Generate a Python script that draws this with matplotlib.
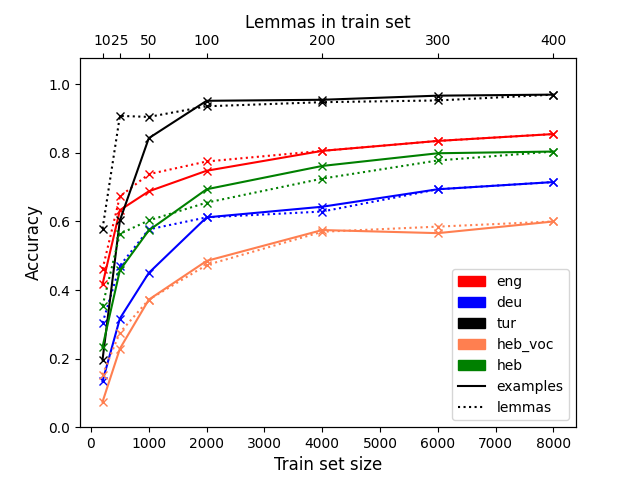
import matplotlib
matplotlib.use("Agg")
import matplotlib.pyplot as plt
import matplotlib.patches as mpatches
from matplotlib.lines import Line2D

train_sizes = [200, 500, 1000, 2000, 4000, 6000, 8000]
lemma_labels = ["10", "25", "50", "100", "200", "300", "400"]

languages = ["eng", "deu", "tur", "heb_voc", "heb"]
colors = ["red", "blue", "black", "coral", "green"]

# accuracy when splitting by examples (solid) and by lemmas (dotted)
eng_examples = [0.417, 0.633, 0.688, 0.748, 0.806, 0.835, 0.855]
eng_lemmas = [0.461, 0.673, 0.738, 0.775, 0.806, 0.835, 0.855]
deu_examples = [0.134, 0.317, 0.450, 0.612, 0.643, 0.694, 0.715]
deu_lemmas = [0.304, 0.471, 0.577, 0.612, 0.629, 0.694, 0.715]
tur_examples = [0.197, 0.603, 0.843, 0.952, 0.955, 0.967, 0.970]
tur_lemmas = [0.579, 0.908, 0.905, 0.936, 0.948, 0.953, 0.970]
heb_voc_examples = [0.074, 0.229, 0.372, 0.485, 0.575, 0.566, 0.600]
heb_voc_lemmas = [0.153, 0.276, 0.372, 0.473, 0.570, 0.585, 0.600]
heb_examples = [0.234, 0.458, 0.574, 0.694, 0.762, 0.799, 0.804]
heb_lemmas = [0.354, 0.564, 0.603, 0.655, 0.725, 0.778, 0.804]

examples = [eng_examples, deu_examples, tur_examples, heb_voc_examples, heb_examples]
lemmas = [eng_lemmas, deu_lemmas, tur_lemmas, heb_voc_lemmas, heb_lemmas]

fig, ax = plt.subplots(figsize=(6.4, 4.8), dpi=100)

for lang, color, ex, lem in zip(languages, colors, examples, lemmas):
    ax.plot(train_sizes, ex, color=color, marker="x", linestyle="-")
    ax.plot(train_sizes, lem, color=color, marker="x", linestyle=":")

ax.set_ylim(0, 1.078)
ax.set_xlabel("Train set size", fontsize=12)
ax.set_ylabel("Accuracy", fontsize=12)

top = ax.twiny()
top.set_xlim(ax.get_xlim())
top.set_xticks(train_sizes)
top.set_xticklabels(lemma_labels)
top.set_xlabel("Lemmas in train set", fontsize=12)

handles = [mpatches.Patch(color=c, label=l) for l, c in zip(languages, colors)]
handles.append(Line2D([], [], color="black", linestyle="-", label="examples"))
handles.append(Line2D([], [], color="black", linestyle=":", label="lemmas"))
ax.legend(handles=handles, loc="lower right")

fig.savefig("out.png")
